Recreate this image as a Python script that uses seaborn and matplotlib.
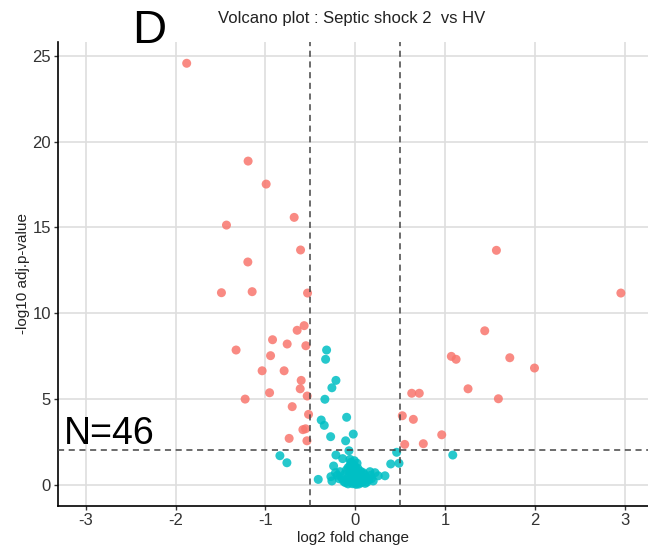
import matplotlib
matplotlib.use("Agg")
import matplotlib.pyplot as plt
import seaborn as sns
import pandas as pd

# ---- data ----
red_x = [-1.877, -1.193, -0.992, -0.680, -1.434, -0.609, -1.196, -1.490, -1.148, -0.531,
         -0.569, -0.647, -0.921, -0.758, -0.550, -1.327, -0.943, -1.037, -0.792, -0.602,
         -0.613, -0.954, -0.535, -1.226, -0.702, -0.520, -0.583, -0.553, -0.736, -0.538,
         1.572, 2.958, 1.442, 1.070, 1.123, 1.721, 1.996, 1.256, 1.594, 0.629,
         0.713, 0.524, 0.647, 0.963, 0.551, 0.758]
red_y = [24.56, 18.86, 17.52, 15.58, 15.13, 13.68, 12.98, 11.19, 11.25, 11.17,
         9.27, 9.00, 8.45, 8.20, 8.10, 7.85, 7.52, 6.64, 6.64, 6.08,
         5.59, 5.36, 5.17, 4.99, 4.55, 4.10, 3.21, 3.26, 2.70, 2.56,
         13.66, 11.17, 8.97, 7.48, 7.31, 7.40, 6.80, 5.59, 5.01, 5.33,
         5.33, 4.02, 3.81, 2.91, 2.35, 2.39]

blue_x = [-0.319, -0.330, -0.215, -0.260, -0.338, -0.096, -0.379, -0.345, -0.022, -0.274,
          -0.107, -0.070, 0.461, -0.215, -0.140, -0.059, 0.395, 0.487, -0.241, -0.171,
          -0.412, -0.271, -0.260, 0.164, 0.089, 0.220, 0.172, 0.256, 0.331, 1.086,
          -0.839, -0.761,
          -0.05, -0.02, 0.00, -0.08, 0.03, -0.04, -0.10, 0.01, 0.06, -0.06,
          -0.01, 0.04, -0.12, 0.10, -0.03, 0.02, -0.07, 0.07, 0.12, -0.15,
          0.00, -0.04, 0.05, -0.09, 0.09, 0.15, -0.02, 0.03, -0.06, 0.07,
          -0.11, 0.00, 0.11, -0.03, 0.04, 0.01, -0.08, 0.06, -0.13, 0.13,
          -0.18, 0.18, 0.20, -0.01, 0.02, -0.06, -0.20, -0.22]
blue_y = [7.85, 7.31, 6.08, 5.65, 4.98, 3.93, 3.77, 3.46, 2.95, 2.80,
          2.56, 1.98, 1.89, 1.73, 1.52, 1.48, 1.21, 1.25, 1.09, 0.76,
          0.31, 0.47, 0.22, 0.76, 0.70, 0.70, 0.55, 0.52, 0.52, 1.73,
          1.69, 1.28,
          1.30, 1.15, 1.05, 1.00, 0.95, 0.90, 0.85, 0.80, 0.78, 0.72,
          0.68, 0.62, 0.60, 0.60, 0.55, 0.50, 0.48, 0.45, 0.42, 0.40,
          0.38, 0.34, 0.30, 0.28, 0.25, 0.30, 0.22, 0.18, 0.15, 0.12,
          0.12, 0.10, 0.08, 0.06, 0.04, 0.02, 0.05, 0.20, 0.20, 0.15,
          0.35, 0.35, 0.22, 1.40, 1.25, 1.10, 0.55, 0.70]

x_ticks = [-3, -2, -1, 0, 1, 2, 3]
y_ticks = [0, 5, 10, 15, 20, 25]
fc_cut = 0.5
p_cut = 2.0

df = pd.DataFrame({
    "log2FC": red_x + blue_x,
    "logp": red_y + blue_y,
    "sig": ["yes"] * len(red_x) + ["no"] * len(blue_x),
})

sns.set_theme(style="white")
plt.rcParams["font.family"] = ["Liberation Sans", "DejaVu Sans"]
plt.rcParams["axes.unicode_minus"] = False

fig = plt.figure(figsize=(6.48, 5.52), dpi=100)
ax = fig.add_axes([58 / 648, 1 - 506 / 552, 1 - 58 / 648, (506 - 42) / 552])

sns.scatterplot(data=df, x="log2FC", y="logp", hue="sig",
                palette={"yes": "#F8766D", "no": "#00BFC4"},
                s=42, linewidth=0, alpha=0.85, legend=False, ax=ax, zorder=3)

ax.set_xlim(-3.31, 3.26)
ax.set_ylim(-1.24, 25.8)
ax.set_xticks(x_ticks)
ax.set_yticks(y_ticks)
ax.set_xticklabels([str(t) for t in x_ticks])
ax.set_yticklabels([str(t) for t in y_ticks])
ax.grid(True, color="#dedede", linewidth=1.2, zorder=0)
ax.set_axisbelow(True)

for v in (-fc_cut, fc_cut):
    ax.axvline(v, color="#444444", linestyle=(0, (4, 3)), linewidth=1.1, zorder=4)
ax.axhline(p_cut, color="#444444", linestyle=(0, (4, 3)), linewidth=1.1, zorder=4)

for side in ("top", "right"):
    ax.spines[side].set_visible(False)
for side in ("left", "bottom"):
    ax.spines[side].set_color("black")
    ax.spines[side].set_linewidth(1.2)

ax.tick_params(axis="both", which="major", length=3, width=1, color="#333333",
               labelsize=12, labelcolor="#333333", direction="out", bottom=True, left=True, pad=2)

ax.set_xlabel("log2 fold change", fontsize=11, color="#222222", labelpad=2)
ax.set_ylabel("-log10 adj.p-value", fontsize=11, color="#222222", labelpad=2)

ax.text(-3.24, 2.35, "N=46", fontsize=27, color="black", va="baseline", ha="left", zorder=5)

fig.text(149 / 648, 1 - 43 / 552, "D", fontsize=34, ha="center", va="baseline", color="black")
fig.text(352 / 648, 1 - 18 / 552, "Volcano plot : Septic shock 2  vs HV", fontsize=12,
         ha="center", va="center", color="#222222")

fig.savefig("out.png", dpi=100)
